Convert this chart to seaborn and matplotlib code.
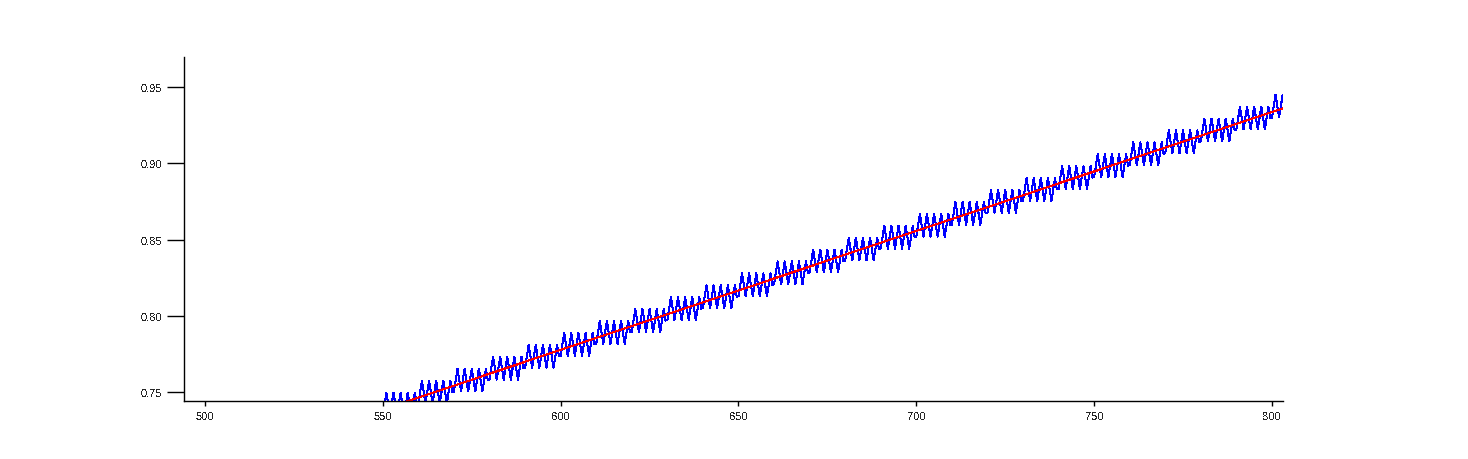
import numpy as np
import pandas as pd
import seaborn as sns
import matplotlib
matplotlib.use("Agg")
import matplotlib.pyplot as plt
from matplotlib.ticker import FormatStrFormatter

# values
fit_x = [490.0, 803.0]          # straight red line, ends
fit_y = [0.6918, 0.9360]
level_step = 1 / 128            # blue staircase step height
wave_amp = 0.0075               # blue zigzag half height
wave_period = 2.0               # blue zigzag period (x units), peaks on odd x
sample_dx = 0.5

x_ticks = [500, 550, 600, 650, 700, 750, 800]
y_ticks = [0.75, 0.80, 0.85, 0.90, 0.95]

# blue series: trend rounded to the level step plus the zigzag
xs = np.arange(fit_x[0], fit_x[1] + 0.01, sample_dx)
trend = np.interp(xs, fit_x, fit_y)
levels = np.round(trend / level_step) * level_step
blue = levels - wave_amp * np.cos(2 * np.pi * xs / wave_period)

df_sig = pd.DataFrame({"x": xs, "y": blue})
df_fit = pd.DataFrame({"x": fit_x, "y": fit_y})

sns.set_style("ticks")
plt.rcParams["font.family"] = ["Liberation Sans", "DejaVu Sans"]
plt.rcParams["text.antialiased"] = False

fig = plt.figure(figsize=(14.68, 4.6), dpi=100)
ax = fig.add_axes([184 / 1468, 58 / 460, 1099 / 1468, 344 / 460])

sns.lineplot(data=df_sig, x="x", y="y", color="#0000ff", linewidth=0.72,
             estimator=None, sort=False, antialiased=False, ax=ax)
sns.lineplot(data=df_fit, x="x", y="y", color="#ff0000", linewidth=0.72,
             estimator=None, sort=False, antialiased=False, ax=ax)

ax.set_xlim(494.1, 803.1)
ax.set_ylim(0.7441, 0.9697)
ax.set_xticks(x_ticks)
ax.set_yticks(y_ticks)
ax.yaxis.set_major_formatter(FormatStrFormatter("%.2f"))
ax.set_xlabel("")
ax.set_ylabel("")
ax.tick_params(axis="y", length=12, width=1, pad=3.5, labelsize=8, color="black")
ax.tick_params(axis="x", length=3.5, width=1, pad=4, labelsize=8, color="black")
for s in ["left", "bottom"]:
    ax.spines[s].set_color("black")
    ax.spines[s].set_linewidth(1)
sns.despine(ax=ax)

fig.savefig("out.png", dpi=100)
